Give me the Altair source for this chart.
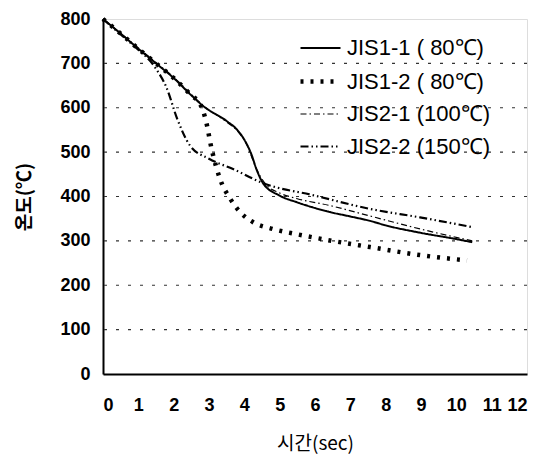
import altair as alt
import pandas as pd

series_names = ["JIS1-1 ( 80℃)", "JIS1-2 ( 80℃)", "JIS2-1 (100℃)", "JIS2-2 (150℃)"]

t_11 = [0, 0.5, 1.0, 1.5, 2.0, 2.5, 2.85, 3.5, 3.8, 4.0, 4.2, 4.35, 4.53, 5.0, 5.49, 6.0, 6.42, 7.0, 7.56, 8.0, 9.0, 10.0, 10.45]
y_11 = [800, 767, 733, 700, 667, 628, 603, 570, 550, 528, 495, 460, 430, 402, 387, 374, 365, 355, 345, 335, 318, 304, 297]

t_12 = [0, 0.5, 1.0, 1.5, 2.0, 2.5, 2.75, 2.9, 3.08, 3.31, 3.6, 3.88, 4.25, 4.8, 5.49, 6.42, 7.56, 8.97, 10.3]
y_12 = [800, 767, 733, 700, 667, 628, 608, 575, 505, 440, 395, 365, 342, 327, 315, 301, 286, 268, 256]

t_21 = [0, 0.5, 1.0, 1.5, 2.0, 2.5, 2.85, 3.5, 3.8, 4.1, 4.3, 4.6, 5.0, 5.5, 6.4, 7.56, 8.97, 10.45]
y_21 = [800, 768, 735, 702, 669, 630, 604, 568, 548, 512, 470, 428, 408, 395, 380, 356, 327, 300]

t_22 = [0, 0.4, 0.85, 1.5, 1.8, 2.1, 2.46, 3.0, 3.68, 4.53, 5.94, 7.56, 8.97, 10.45]
y_22 = [800, 772, 741, 688, 645, 575, 515, 485, 462, 430, 403, 372, 353, 331]

x_ticks = list(range(0, 13))
y_ticks = list(range(0, 801, 100))
grid_vals = [100, 200, 300, 400, 500, 600, 700]

rows = []
for name, ts, ys in zip(series_names, [t_11, t_12, t_21, t_22], [y_11, y_12, y_21, y_22]):
    for i, (t, y) in enumerate(zip(ts, ys)):
        rows.append({"series": name, "t": t, "temp": y, "order": i})
df = pd.DataFrame(rows)
grid_df = pd.DataFrame({"g": grid_vals})

x_scale = alt.Scale(domain=[0, 12], nice=False, zero=False)
y_scale = alt.Scale(domain=[0, 800], nice=False)

font = "Liberation Sans"

grid = alt.Chart(grid_df).mark_rule(color="#333", strokeDash=[3, 9], strokeWidth=1.2).encode(
    y=alt.Y("g:Q", scale=y_scale)
)

legend = alt.Legend(title=None, orient="none", legendX=195, legendY=8,
                    labelFont=font, labelFontSize=22, labelColor="black",
                    symbolType="stroke", symbolSize=1600, symbolStrokeColor="black",
                    rowPadding=-5, labelOffset=4)

lines = alt.Chart(df).mark_line(color="black", interpolate="monotone").encode(
    x=alt.X("t:Q", scale=x_scale,
            axis=alt.Axis(values=x_ticks, title="시간(sec)", grid=False, ticks=False,
                          labelFont=font, labelFontSize=18, labelFontWeight="bold", labelColor="black",
                          labelPadding=22, titleFont="Noto Sans CJK KR", titleFontSize=19,
                          titleFontWeight="normal", titleColor="black", titlePadding=20,
                          domainColor="black", domainWidth=2, format="d")),
    y=alt.Y("temp:Q", scale=y_scale,
            axis=alt.Axis(values=y_ticks, title="온도(℃)", grid=False, ticks=False,
                          labelFont=font, labelFontSize=18, labelFontWeight="bold", labelColor="black",
                          labelPadding=13, titleFont="Noto Sans CJK KR", titleFontSize=19,
                          titleFontWeight="bold", titleColor="black", titlePadding=25,
                          domainColor="black", domainWidth=2, format="d")),
    strokeDash=alt.StrokeDash("series:N",
                              scale=alt.Scale(domain=series_names,
                                              range=[[1, 0], [3, 7], [6, 3, 1.5, 3], [8, 3, 1.5, 3, 1.5, 3]]),
                              legend=legend),
    strokeWidth=alt.StrokeWidth("series:N",
                                scale=alt.Scale(type="ordinal", domain=series_names, range=[2, 4.5, 1.2, 2.2]),
                                legend=legend),
    detail="series:N",
    order="order:Q",
)

chart = alt.layer(grid, lines).properties(
    width=424, height=355,
    padding={"left": 7, "top": 2, "right": 5, "bottom": 5},
).configure_view(stroke="black", strokeWidth=2).configure(background="white")

chart.save("out.html", embed_options={"renderer": "svg", "actions": False})
